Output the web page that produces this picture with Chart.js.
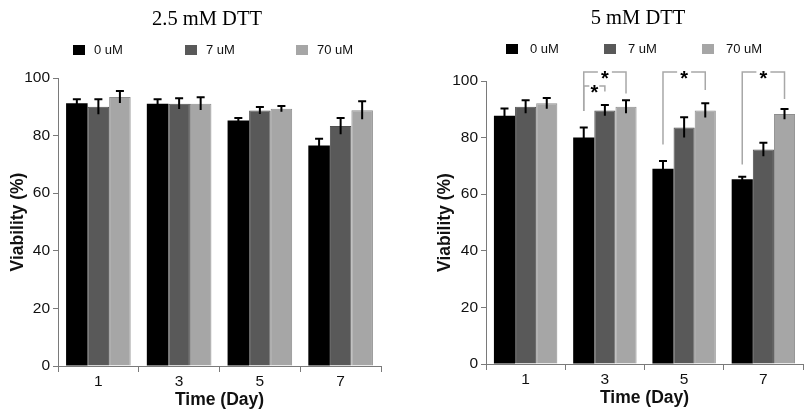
<!DOCTYPE html>
<html>
<head>
<meta charset="utf-8">
<script src="https://cdn.jsdelivr.net/npm/chart.js@4.4.0/dist/chart.umd.min.js"></script>
<style>
  html, body { margin: 0; padding: 0; background: #fff; }
  #wrap { position: relative; width: 808px; height: 414px; overflow: hidden; }
  canvas { position: absolute; top: 0; }
  #cL { left: 0; }
  #cR { left: 404px; }
</style>
</head>
<body>
<div id="wrap">
  <canvas id="cL" width="404" height="414"></canvas>
  <canvas id="cR" width="404" height="414"></canvas>
</div>
<script>
// ---------------- data ----------------
const days = ['1', '3', '5', '7'];
const seriesLabels = ['0 uM', '7 uM', '70 uM'];
const yTicks = [0, 20, 40, 60, 80, 100];
const panelTitles = ['2.5 mM DTT', '5 mM DTT'];

// 2.5 mM DTT
const viab25_0  = [91.2, 91.1, 85.2, 76.6];
const viab25_7  = [90.0, 91.1, 88.7, 83.3];
const viab25_70 = [93.4, 91.1, 89.3, 88.8];
const err25_0   = [1.4, 1.5, 0.9, 2.3];
const err25_7   = [2.6, 1.9, 1.2, 2.8];
const err25_70  = [2.1, 2.2, 1.0, 3.1];

// 5 mM DTT
const viab5_0  = [87.7, 80.0, 69.0, 65.3];
const viab5_7  = [90.9, 89.6, 83.6, 75.8];
const viab5_70 = [92.1, 90.9, 89.6, 88.3];
const err5_0   = [2.6, 3.6, 2.7, 0.9];
const err5_7   = [2.3, 1.9, 3.6, 2.4];
const err5_70  = [1.9, 2.3, 2.5, 1.8];

// significance brackets (5 mM DTT panel)
const sigDay     = [1, 1, 2, 3];          // category index
const sigFrom    = [0, 0, 0, 0];          // series index (left leg)
const sigTo      = [2, 1, 2, 2];          // series index (right leg)
const sigLevel   = [103.2, 98.2, 103.2, 103.2]; // bracket height (value units)
const sigLegFrom = [89.4, 89.4, 77.6, 70.5];    // left leg end (value units)
const sigLegTo   = [95.6, 96.3, 96.8, 93.6];    // right leg end (value units)
const sigMark    = ['*', '*', '*', '*'];

// ---------------- styles ----------------
const colors = ['#000000', '#595959', '#a6a6a6'];
const borders = ['#000000', '#4f4f4f', '#8e8e8e'];
const axisColor = '#7a7a7a';
const sansFont = "'Liberation Sans', Arial, sans-serif";
const serifFont = "'Liberation Serif', 'Times New Roman', serif";

// ---------------- plugins ----------------
const errorBarPlugin = {
  id: 'errorBars',
  afterDatasetsDraw(chart) {
    const ctx = chart.ctx;
    const y = chart.scales.y;
    ctx.save();
    ctx.strokeStyle = '#000';
    ctx.lineWidth = 2;
    chart.data.datasets.forEach((ds, i) => {
      const meta = chart.getDatasetMeta(i);
      meta.data.forEach((bar, j) => {
        const v = ds.data[j], e = ds.errors[j];
        const yTop = y.getPixelForValue(v + e);
        const yBot = y.getPixelForValue(v - e);
        ctx.beginPath();
        ctx.moveTo(bar.x, yBot);
        ctx.lineTo(bar.x, yTop);
        ctx.moveTo(bar.x - 4, yTop);
        ctx.lineTo(bar.x + 4, yTop);
        ctx.stroke();
      });
    });
    ctx.restore();
  }
};

const headerPlugin = {
  id: 'header',
  afterDraw(chart, args, opts) {
    const ctx = chart.ctx;
    ctx.save();
    // title
    ctx.fillStyle = '#000';
    ctx.font = '20.5px ' + serifFont;
    ctx.textAlign = 'center';
    ctx.textBaseline = 'alphabetic';
    ctx.fillText(opts.title, opts.titleX, opts.titleY);
    // legend
    ctx.font = '13px ' + sansFont;
    ctx.textAlign = 'left';
    ctx.textBaseline = 'middle';
    chart.data.datasets.forEach((ds, i) => {
      const bx = opts.boxX[i];
      ctx.fillStyle = ds.backgroundColor;
      ctx.fillRect(bx, opts.legendY - 5, 12, 10);
      ctx.fillStyle = '#111';
      ctx.fillText(ds.label, bx + 12 + opts.textGap, opts.legendY + 0.5);
    });
    ctx.restore();
  }
};

const sigPlugin = {
  id: 'sig',
  afterDraw(chart, args, opts) {
    if (!opts.enabled) return;
    const ctx = chart.ctx;
    const y = chart.scales.y;
    ctx.save();
    ctx.strokeStyle = '#a8a8a8';
    ctx.lineWidth = 1.5;
    for (let k = 0; k < sigDay.length; k++) {
      const xa = chart.getDatasetMeta(sigFrom[k]).data[sigDay[k]].x;
      const xb = chart.getDatasetMeta(sigTo[k]).data[sigDay[k]].x;
      const yl = y.getPixelForValue(sigLevel[k]);
      const ya = y.getPixelForValue(sigLegFrom[k]);
      const yb = y.getPixelForValue(sigLegTo[k]);
      const xm = (xa + xb) / 2;
      const gap = (xb - xa) > 30 ? 7 : 5;
      ctx.beginPath();
      ctx.moveTo(xa, ya);
      ctx.lineTo(xa, yl);
      ctx.lineTo(xm - gap, yl);
      ctx.moveTo(xm + gap, yl);
      ctx.lineTo(xb, yl);
      ctx.lineTo(xb, yb);
      ctx.stroke();
      ctx.fillStyle = '#000';
      ctx.font = 'bold 20px ' + sansFont;
      ctx.textAlign = 'center';
      ctx.textBaseline = 'alphabetic';
      ctx.fillText(sigMark[k], xm, yl + 13);
    }
    ctx.restore();
  }
};

function makeChart(canvasId, vals, errs, cfg) {
  const datasets = vals.map((v, i) => ({
    label: seriesLabels[i],
    data: v,
    errors: errs[i],
    backgroundColor: colors[i],
    borderColor: borders[i],
    borderWidth: i === 0 ? 0 : 1,
    categoryPercentage: 0.8,
    barPercentage: 1.0
  }));
  return new Chart(document.getElementById(canvasId), {
    type: 'bar',
    data: { labels: days, datasets },
    plugins: [errorBarPlugin, sigPlugin, headerPlugin],
    options: {
      responsive: false,
      animation: false,
      events: [],
      layout: { padding: { top: cfg.top, right: cfg.right, left: 0, bottom: 0 } },
      plugins: {
        legend: { display: false },
        title: { display: false },
        tooltip: { enabled: false },
        header: cfg.header,
        sig: { enabled: cfg.sig }
      },
      scales: {
        x: {
          type: 'category',
          grid: { offset: true, drawOnChartArea: false, drawTicks: true, tickLength: 6, color: axisColor },
          border: { display: true, color: axisColor, width: 1 },
          ticks: { color: '#111', font: { family: sansFont, size: 15.5 }, padding: 0 },
          title: {
            display: true, text: 'Time (Day)', color: '#111',
            font: { family: sansFont, size: 17.5, weight: 'bold' },
            padding: { top: 0, bottom: cfg.xTitlePad }
          },
          afterFit(scale) { scale.height = cfg.xHeight; }
        },
        y: {
          min: 0, max: 100,
          afterBuildTicks(scale) { scale.ticks = yTicks.map(v => ({ value: v })); },
          grid: { drawOnChartArea: false, drawTicks: true, tickLength: 5, color: axisColor },
          border: { display: true, color: axisColor, width: 1 },
          ticks: { color: '#111', font: { family: sansFont, size: 15.5 }, padding: 3 },
          title: {
            display: true, text: 'Viability (%)', color: '#111',
            font: { family: sansFont, size: 17.5, weight: 'bold' },
            padding: { top: cfg.yTitlePad, bottom: 0 }
          },
          afterFit(scale) { scale.width = cfg.yWidth; }
        }
      }
    }
  });
}

makeChart('cL', [viab25_0, viab25_7, viab25_70], [err25_0, err25_7, err25_70], {
  top: 78, right: 23, xHeight: 48, yWidth: 58, xTitlePad: 3, yTitlePad: 8, sig: false,
  header: { title: panelTitles[0], titleX: 207, titleY: 25, boxX: [73, 185, 296], textGap: 9, legendY: 50 }
});

makeChart('cR', [viab5_0, viab5_7, viab5_70], [err5_0, err5_7, err5_70], {
  top: 81, right: 5, xHeight: 50, yWidth: 82, xTitlePad: 5, yTitlePad: 31, sig: true,
  header: { title: panelTitles[1], titleX: 234, titleY: 24, boxX: [102, 200, 298], textGap: 12, legendY: 49 }
});
</script>
</body>
</html>
